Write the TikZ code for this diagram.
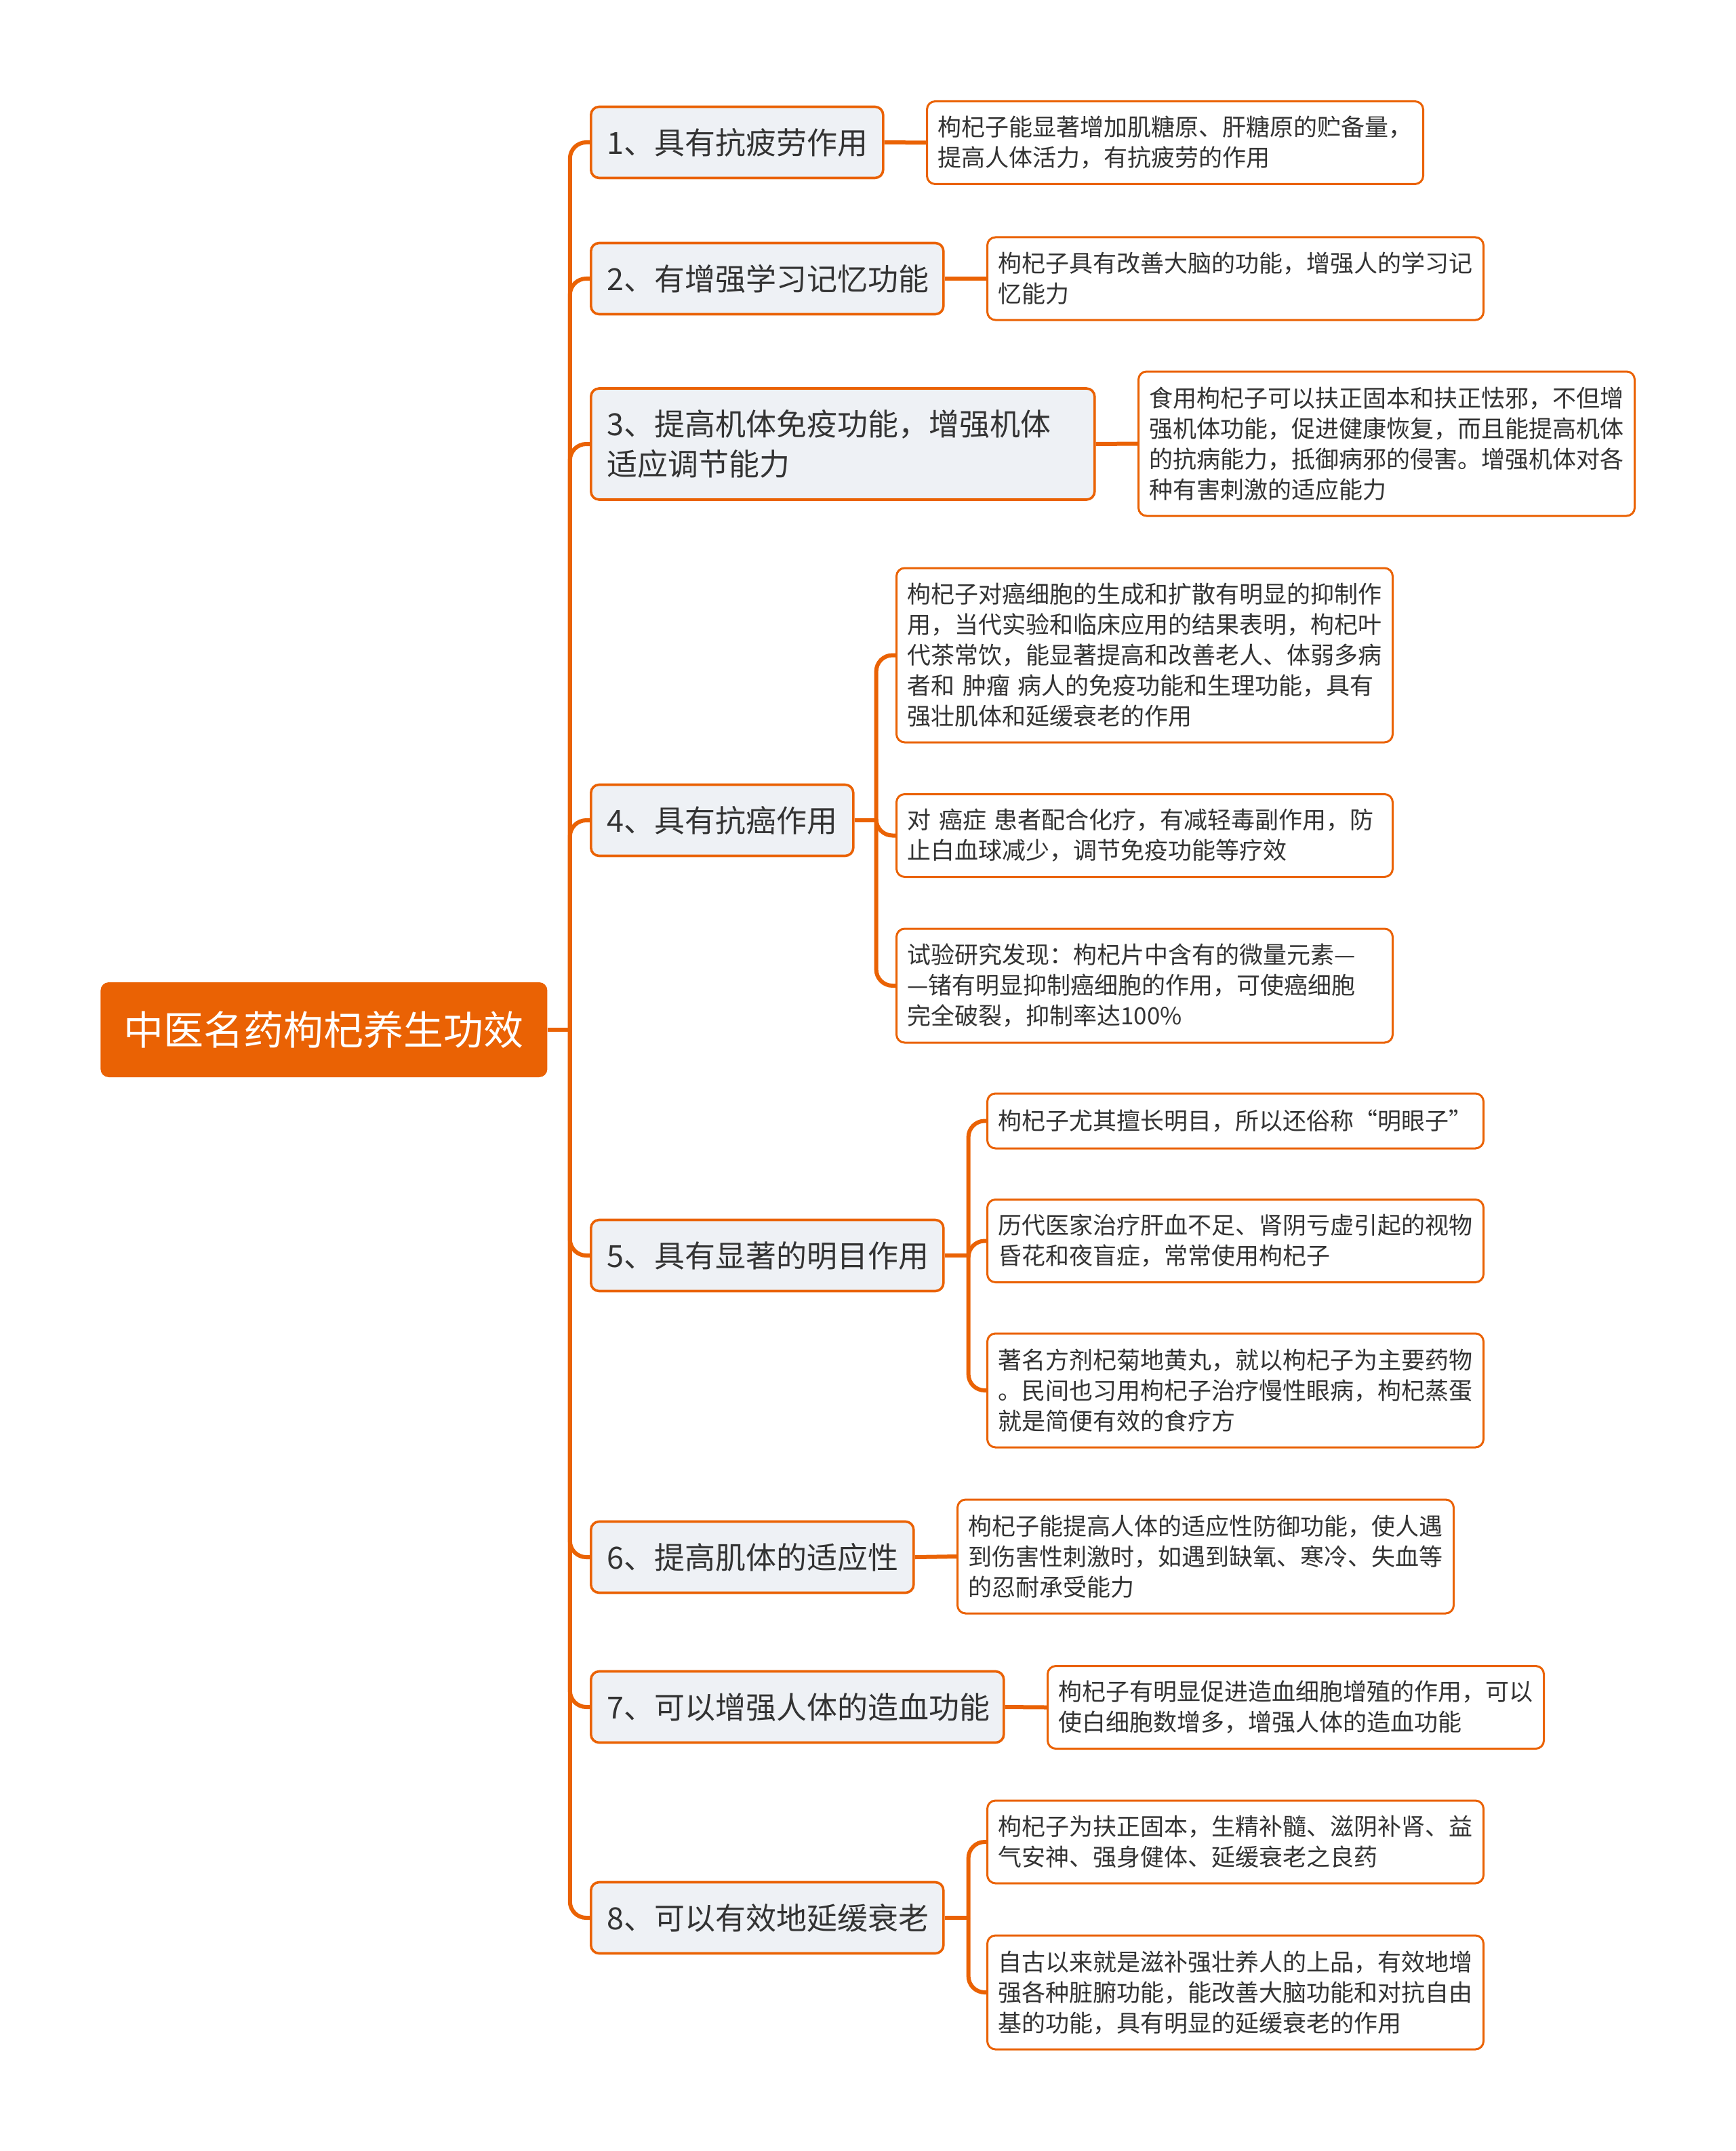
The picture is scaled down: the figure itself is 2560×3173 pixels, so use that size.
\documentclass[tikz,border=0pt]{standalone}
\usepackage{fontspec}
\setmainfont{Noto Sans CJK SC}
\definecolor{gouqi}{HTML}{EA6204}
\definecolor{topicbg}{HTML}{EEF1F5}
\definecolor{inktext}{HTML}{333333}
\begin{document}
\begin{tikzpicture}[x=0.5pt,y=-0.5pt,
  root/.style={fill=gouqi,rounded corners=6pt,anchor=west,text=white,
    font=\fontsize{29.5}{35}\selectfont,minimum width=329.5pt,minimum height=70pt},
  topic/.style={draw=gouqi,line width=1.8pt,fill=topicbg,rounded corners=6pt,anchor=west,
    align=left,inner xsep=12pt,text=inktext,font=\fontsize{22.5}{29.5}\selectfont,minimum height=52.5pt},
  detail/.style={draw=gouqi,line width=1.5pt,fill=white,rounded corners=6pt,anchor=west,
    align=left,inner xsep=8pt,text width=350pt,text=inktext,font=\fontsize{17.5}{22.5}\selectfont},
  link/.style={draw=gouqi,line width=3pt,rounded corners=12pt}]
  \useasboundingbox (0,0) rectangle (2560,3173);

  % 中心主题
  \node[root] (root) at (148,1519) {中医名药枸杞养生功效};

  % 八项功效
  \node[topic,text width=191.5pt] (t1) at (870,210) {1、具有抗疲劳作用};
  \node[topic,text width=236pt] (t2) at (870,411) {2、有增强学习记忆功能};
  \node[topic,text width=347.5pt,minimum height=82pt] (t3) at (870,655) {3、提高机体免疫功能，增强机体\\适应调节能力};
  \node[topic,text width=169.5pt] (t4) at (870,1210) {4、具有抗癌作用};
  \node[topic,text width=236pt] (t5) at (870,1852) {5、具有显著的明目作用};
  \node[topic,text width=214pt] (t6) at (870,2297) {6、提高肌体的适应性};
  \node[topic,text width=280.5pt] (t7) at (870,2518) {7、可以增强人体的造血功能};
  \node[topic,text width=236pt] (t8) at (870,2829) {8、可以有效地延缓衰老};

  % 说明
  \node[detail,minimum height=61pt] (d1) at (1366,210.5) {枸杞子能显著增加肌糖原、肝糖原的贮备量，\\提高人体活力，有抗疲劳的作用};
  \node[detail,minimum height=61pt] (d2) at (1455,411) {枸杞子具有改善大脑的功能，增强人的学习记\\忆能力};
  \node[detail,minimum height=106.5pt] (d3) at (1678,654.5) {食用枸杞子可以扶正固本和扶正怯邪，不但增\\强机体功能，促进健康恢复，而且能提高机体\\的抗病能力，抵御病邪的侵害。增强机体对各\\种有害刺激的适应能力};
  \node[detail,minimum height=128.5pt] (d4a) at (1321,966.5) {枸杞子对癌细胞的生成和扩散有明显的抑制作\\用，当代实验和临床应用的结果表明，枸杞叶\\代茶常饮，能显著提高和改善老人、体弱多病\\者和 肿瘤 病人的免疫功能和生理功能，具有\\强壮肌体和延缓衰老的作用};
  \node[detail,minimum height=61pt] (d4b) at (1321,1232.5) {对 癌症 患者配合化疗，有减轻毒副作用，防\\止白血球减少，调节免疫功能等疗效};
  \node[detail,minimum height=84pt] (d4c) at (1321,1454) {试验研究发现：枸杞片中含有的微量元素—\\—锗有明显抑制癌细胞的作用，可使癌细胞\\完全破裂，抑制率达100\%};
  \node[detail,minimum height=40.5pt] (d5a) at (1455,1653.5) {枸杞子尤其擅长明目，所以还俗称“明眼子”};
  \node[detail,minimum height=61pt] (d5b) at (1455,1830.5) {历代医家治疗肝血不足、肾阴亏虚引起的视物\\昏花和夜盲症，常常使用枸杞子};
  \node[detail,minimum height=84pt] (d5c) at (1455,2051) {著名方剂杞菊地黄丸，就以枸杞子为主要药物\\。民间也习用枸杞子治疗慢性眼病，枸杞蒸蛋\\就是简便有效的食疗方};
  \node[detail,minimum height=84pt] (d6) at (1411,2296) {枸杞子能提高人体的适应性防御功能，使人遇\\到伤害性刺激时，如遇到缺氧、寒冷、失血等\\的忍耐承受能力};
  \node[detail,minimum height=61pt] (d7) at (1544,2518.5) {枸杞子有明显促进造血细胞增殖的作用，可以\\使白细胞数增多，增强人体的造血功能};
  \node[detail,minimum height=61pt] (d8a) at (1455,2717) {枸杞子为扶正固本，生精补髓、滋阴补肾、益\\气安神、强身健体、延缓衰老之良药};
  \node[detail,minimum height=84pt] (d8b) at (1455,2939) {自古以来就是滋补强壮养人的上品，有效地增\\强各种脏腑功能，能改善大脑功能和对抗自由\\基的功能，具有明显的延缓衰老的作用};

  % 连线
  \draw[link] (root.east) -- ++(33,0);
  \foreach \t in {t1,t2,t3,t4,t5,t6,t7,t8}
    \draw[link] (root.east) ++(33,0) |- (\t.west);
  \foreach \t/\d in {t1/d1,t2/d2,t3/d3,t6/d6,t7/d7}
    \draw[link] (\t.east) -- (\d.west);
  \draw[link] (t4.east) -- ++(32,0);
  \foreach \d in {d4a,d4b,d4c}
    \draw[link] (t4.east) ++(32,0) |- (\d.west);
  \draw[link] (t5.east) -- ++(35,0);
  \foreach \d in {d5a,d5b,d5c}
    \draw[link] (t5.east) ++(35,0) |- (\d.west);
  \draw[link] (t8.east) -- ++(35,0);
  \foreach \d in {d8a,d8b}
    \draw[link] (t8.east) ++(35,0) |- (\d.west);
\end{tikzpicture}
\end{document}
